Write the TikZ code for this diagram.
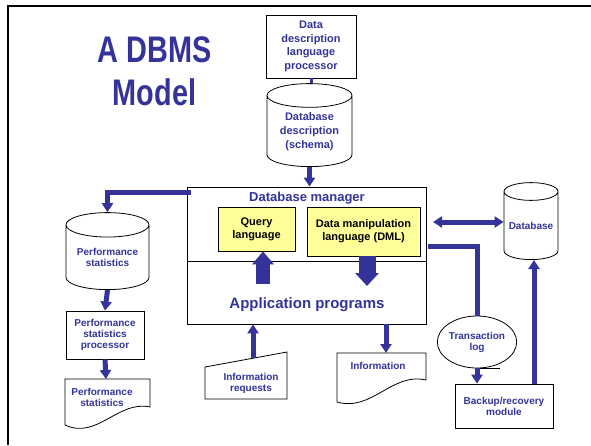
\documentclass[tikz,border=0pt]{standalone}
\usepackage{fontspec}
\setmainfont{Liberation Sans}
\newfontfamily\titlefont[FakeStretch=0.78]{Liberation Sans}
\usetikzlibrary{arrows.meta,shapes.geometric,positioning}

\definecolor{dbblue}{RGB}{51,51,153}
\definecolor{dbyellow}{RGB}{255,255,153}

\tikzset{
  lbl/.style={text=dbblue,font=\bfseries\fontsize{10}{11}\selectfont,align=center,inner sep=0pt},
  procbox/.style={draw,line width=0.8pt,lbl},
  langbox/.style={draw,line width=0.8pt,fill=dbyellow,align=center,inner sep=0pt,
    font=\bfseries\fontsize{11}{13}\selectfont},
  dbcyl/.style={cylinder,shape border rotate=90,draw,line width=0.8pt,lbl,aspect=0.4,anchor=bottom},
  flow/.style={draw=dbblue,line width=5pt,-{Triangle[width=11pt,length=9pt]}},
  fatarrow/.style={draw=dbblue,-{Triangle[width=#1pt,length=13pt]}}
}

\begin{document}
\begin{tikzpicture}[x=1pt,y=-1pt]
\useasboundingbox (0,0) rectangle (591,445);
\draw[line width=2.5pt] (8,445) -- (8,6) -- (591,6);

% title
\node[anchor=north,inner sep=0pt,align=center,text=dbblue,
  font=\titlefont\bfseries\fontsize{37}{43}\selectfont] (title) at (154.5,36) {A DBMS\\Model};

% schema side
\node[procbox,minimum width=90pt,minimum height=63pt,font=\bfseries\fontsize{11}{13.5}\selectfont]
  (ddl) at (311,46.5) {Data\\description\\language\\processor};
\node[dbcyl,minimum width=85pt,minimum height=83pt,font=\bfseries\fontsize{11}{14}\selectfont]
  (schema) at (309.5,167) {Database\\description\\(schema)};
\draw[draw=dbblue,line width=3pt] (ddl.south) -- (ddl.south |- schema.top);

% database manager and application programs
\node[draw,line width=0.8pt,minimum width=239pt,minimum height=137pt] (dbm) at (306.5,255.5) {};
\coordinate (split) at (187,261);
\draw[line width=0.8pt] (split) -- (split -| dbm.east);
\node[lbl,font=\bfseries\fontsize{13}{15}\selectfont] (dbmname) at (307,198) {Database manager};
\node[langbox,minimum width=77pt,minimum height=44pt] (query) at (256.5,229) {Query\\language};
\node[langbox,minimum width=113pt,minimum height=49pt] (dml) at (363.5,231.5) {Data manipulation\\language (DML)};
\node[lbl,font=\bfseries\fontsize{15}{17}\selectfont] (apps) at (307,305) {Application programs};
\coordinate (upfrom) at (263,284);
\coordinate (downto) at (367,286);
\draw[fatarrow=21,line width=14pt] (upfrom) -- (upfrom |- query.south);
\draw[fatarrow=23,line width=17pt] (downto |- dml.south) -- (downto);
\draw[flow] (schema.bottom) -- (schema.bottom |- dbm.north);

% performance statistics
\node[dbcyl,minimum width=83pt,minimum height=77pt] (perfdb) at (107.5,290) {Performance\\statistics};
\node[procbox,minimum width=78pt,minimum height=48pt] (perfproc) at (105,335) {Performance\\statistics\\processor};
\draw[line width=0.8pt] (65,379) -- (150,379) -- (150,407)
  .. controls (118,400) and (97,440) .. (65,425) -- cycle;
\node[lbl] (perfdoc) at (102,397.5) {Performance\\statistics};
\coordinate (perfdoctop) at (106,379);

\coordinate (dbmleft) at (191,192);
\draw[flow] (dbmleft) -| (perfdb.top);
\draw[flow] (perfdb.bottom) -- (perfproc.north);
\draw[flow] (perfproc.south) -- (perfdoctop);

% requests and information
\draw[line width=0.8pt] (205,367) -- (287,352) -- (287,399) -- (205,399) -- cycle;
\node[lbl] (request) at (251,383) {Information\\requests};
\coordinate (requesttop) at (253,358);
\draw[line width=0.8pt] (337,353) -- (426,353) -- (426,380)
  .. controls (392,372) and (372,412) .. (337,402) -- cycle;
\node[lbl] (info) at (378,366) {Information};
\coordinate (infotop) at (386,353);
\draw[flow] (requesttop) -- (requesttop |- dbm.south);
\draw[flow] (infotop |- dbm.south) -- (infotop);

% database, log and recovery
\node[dbcyl,minimum width=54pt,minimum height=77pt] (db) at (531,260) {Database};
\node[draw,ellipse,line width=0.8pt,minimum width=62pt,minimum height=52pt,lbl] (translog) at (477,342) {Transaction\\log};
\draw[line width=0.8pt] (translog.south) -- ++(23,0);
\node[procbox,minimum width=98pt,minimum height=44pt] (backup) at (504,406) {Backup/recovery\\module};

\coordinate (dmlright) at (433,222);
\draw[flow,{Triangle[width=11pt,length=9pt]}-{Triangle[width=11pt,length=9pt]}] (dmlright) -- (db.west |- dmlright);
\coordinate (logfrom) at (428,246);
\draw[draw=dbblue,line width=5pt] (logfrom) -| (translog.north);
\draw[flow] (translog.south) -- (translog.south |- backup.north);
\coordinate (backupup) at (534,384);
\draw[flow] (backupup) -- (backupup |- db.bottom);
\end{tikzpicture}
\end{document}
